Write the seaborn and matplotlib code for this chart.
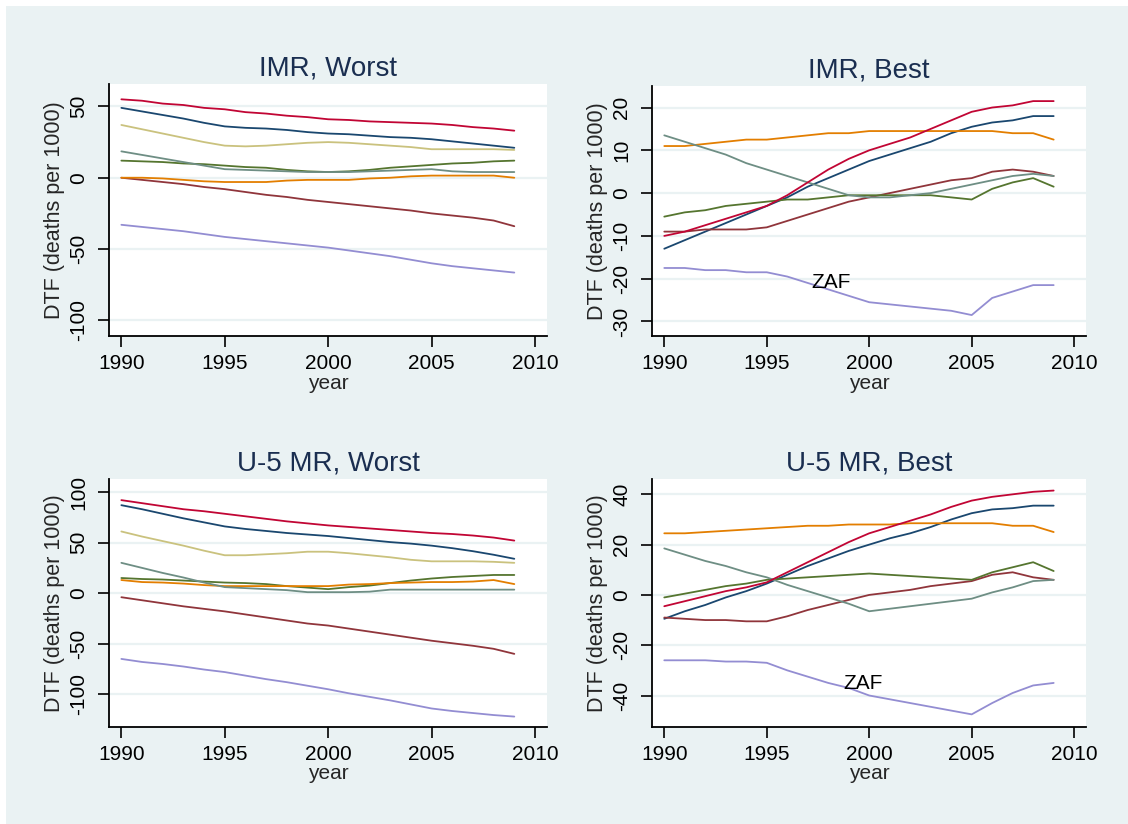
import numpy as np
import pandas as pd
import seaborn as sns
import matplotlib
matplotlib.use("Agg")
from matplotlib import pyplot as plt
from matplotlib.patches import Rectangle

# anni
years = list(range(1990, 2010))

# IMR, Worst
imr_w_red = [55, 54, 52, 51, 49, 48, 46, 45, 43.5, 42.5, 41, 40.5, 39.5, 39, 38.5, 38, 37, 35.5, 34.5, 33]
imr_w_navy = [49, 46.5, 44, 41.5, 38.5, 36, 35, 34.5, 33.5, 32, 31, 30.5, 29.5, 28.5, 28, 27, 25.5, 24, 22.5, 21]
imr_w_khaki = [37, 34, 31, 28, 25, 22.5, 22, 22.5, 23.5, 24.5, 25, 24.5, 23.5, 22.5, 21.5, 20, 20, 20, 20, 19.5]
imr_w_teal = [18.5, 16, 13.5, 11, 8.5, 6, 5.5, 5, 4.5, 4, 4, 4, 4.5, 5, 5.5, 6, 4.5, 4, 4, 4]
imr_w_green = [12, 11.5, 11, 10, 9.5, 8.5, 7.5, 7, 5.5, 4.5, 4, 4.5, 5.5, 7, 8, 9, 10, 10.5, 11.5, 12]
imr_w_orange = [0, 0, -0.5, -1.5, -2.5, -3, -3, -3, -2, -1.5, -1.5, -1.5, -0.5, 0, 1, 1.5, 1.5, 1.5, 1.5, 0]
imr_w_maroon = [0, -1.5, -3, -4.5, -6.5, -8, -10, -12, -13.5, -15.5, -17, -18.5, -20, -21.5, -23, -25, -26.5, -28, -30, -34]
imr_w_zaf = [-33, -34.5, -36, -37.5, -39.5, -41.5, -43, -44.5, -46, -47.5, -49, -51, -53, -55, -57.5, -60, -62, -63.5, -65, -66.5]

# IMR, Best
imr_b_red = [-10, -9, -7.5, -6, -4.5, -3, -0.5, 2.5, 5.5, 8, 10, 11.5, 13, 15, 17, 19, 20, 20.5, 21.5, 21.5]
imr_b_navy = [-13, -11, -9, -7, -5, -3, -1, 1.5, 3.5, 5.5, 7.5, 9, 10.5, 12, 14, 15.5, 16.5, 17, 18, 18]
imr_b_orange = [11, 11, 11.5, 12, 12.5, 12.5, 13, 13.5, 14, 14, 14.5, 14.5, 14.5, 14.5, 14.5, 14.5, 14.5, 14, 14, 12.5]
imr_b_teal = [13.5, 12, 10.5, 9, 7, 5.5, 4, 2.5, 1, -0.5, -1, -1, -0.5, 0, 1, 2, 3, 4, 4.5, 4]
imr_b_green = [-5.5, -4.5, -4, -3, -2.5, -2, -1.5, -1.5, -1, -0.5, -0.5, -0.5, -0.5, -0.5, -1, -1.5, 1, 2.5, 3.5, 1.5]
imr_b_maroon = [-9, -9, -8.5, -8.5, -8.5, -8, -6.5, -5, -3.5, -2, -1, 0, 1, 2, 3, 3.5, 5, 5.5, 5, 4]
imr_b_zaf = [-17.5, -17.5, -18, -18, -18.5, -18.5, -19.5, -21, -22.5, -24, -25.5, -26, -26.5, -27, -27.5, -28.5, -24.5, -23, -21.5, -21.5]

# U-5 MR, Worst
u5_w_red = [92, 89, 86, 83, 81, 78.5, 76, 73.5, 71, 69, 67, 65.5, 64, 62.5, 61, 59.5, 58.5, 57, 55, 52]
u5_w_navy = [87, 83, 78.5, 74, 70, 66, 63.5, 61.5, 59.5, 58, 56.5, 54.5, 52.5, 50.5, 49, 47, 44.5, 41.5, 38, 34]
u5_w_khaki = [61, 56, 51.5, 47, 42, 37.5, 37.5, 38.5, 39.5, 41, 41, 39.5, 37.5, 35.5, 33, 31.5, 31.5, 31.5, 31, 30]
u5_w_teal = [30, 25, 20, 15.5, 10.5, 6, 5, 4, 3, 1, 1, 1, 1.5, 3.5, 3.5, 3.5, 3.5, 3.5, 3.5, 3.5]
u5_w_green = [15, 14, 13.5, 12.5, 11.5, 10.5, 10, 9, 7, 5.5, 4, 6, 7.5, 10, 12.5, 14.5, 16, 17, 18, 18]
u5_w_orange = [13, 11, 10.5, 9.5, 8, 7, 7, 7, 7, 7, 7, 8.5, 9, 10, 10.5, 11, 11, 11.5, 13, 9]
u5_w_maroon = [-4, -7, -10, -13, -15.5, -18, -21, -24, -27, -30, -32, -35, -38, -41, -44, -47, -49.5, -52, -55, -60]
u5_w_zaf = [-65, -68, -70, -72.5, -75.5, -78, -81.5, -85, -88, -91.5, -95, -99, -102.5, -106, -110, -114, -116.5, -118.5, -120.5, -122]

# U-5 MR, Best
u5_b_red = [-4.5, -2.5, -0.5, 1.5, 3, 5, 9, 13, 17, 21, 24.5, 27, 29.5, 32, 35, 37.5, 39, 40, 41, 41.5]
u5_b_navy = [-9.5, -6.5, -4, -1, 1.5, 4.5, 8, 11.5, 14.5, 17.5, 20, 22.5, 24.5, 27, 30, 32.5, 34, 34.5, 35.5, 35.5]
u5_b_orange = [24.5, 24.5, 25, 25.5, 26, 26.5, 27, 27.5, 27.5, 28, 28, 28, 28.5, 28.5, 28.5, 28.5, 28.5, 27.5, 27.5, 25]
u5_b_teal = [18.5, 16, 13.5, 11.5, 9, 7, 4, 1.5, -1, -3.5, -6.5, -5.5, -4.5, -3.5, -2.5, -1.5, 1, 3, 5.5, 6]
u5_b_green = [-1, 0.5, 2, 3.5, 4.5, 6, 6.5, 7, 7.5, 8, 8.5, 8, 7.5, 7, 6.5, 6, 9, 11, 13, 9.5]
u5_b_maroon = [-9, -9.5, -10, -10, -10.5, -10.5, -8.5, -6, -4, -2, 0, 1, 2, 3.5, 4.5, 5.5, 8, 9, 7, 6]
u5_b_zaf = [-26, -26, -26, -26.5, -26.5, -27, -30, -32.5, -35, -37, -40, -41.5, -43, -44.5, -46, -47.5, -43, -39, -36, -35]

# colori stile Stata s2color
colori = {
    "navy": "#1A476F", "maroon": "#90353B", "green": "#55752F", "orange": "#E37E00",
    "teal": "#6E8E84", "red": "#C10534", "ZAF": "#938DD2", "khaki": "#CAC27E",
}
bg = "#EAF2F3"


def to_long(series):
    rows = []
    for name, vals in series.items():
        for y, v in zip(years, vals):
            rows.append({"year": y, "serie": name, "dtf": v})
    return pd.DataFrame(rows)


pannelli = [
    ("IMR, Worst", {"navy": imr_w_navy, "maroon": imr_w_maroon, "green": imr_w_green, "orange": imr_w_orange,
                    "teal": imr_w_teal, "red": imr_w_red, "ZAF": imr_w_zaf, "khaki": imr_w_khaki},
     [-100, -50, 0, 50], (-111, 65.7), None,
     [0.0966, 0.5922, 0.3883, 0.3058]),
    ("IMR, Best", {"navy": imr_b_navy, "maroon": imr_b_maroon, "green": imr_b_green, "orange": imr_b_orange,
                   "teal": imr_b_teal, "red": imr_b_red, "ZAF": imr_b_zaf},
     [-30, -20, -10, 0, 10, 20], (-33.4, 25.1), (1997.2, -21),
     [0.578, 0.5922, 0.3848, 0.3038]),
    ("U-5 MR, Worst", {"navy": u5_w_navy, "maroon": u5_w_maroon, "green": u5_w_green, "orange": u5_w_orange,
                       "teal": u5_w_teal, "red": u5_w_red, "ZAF": u5_w_zaf, "khaki": u5_w_khaki},
     [-100, -50, 0, 50, 100], (-132, 112.9), None,
     [0.0966, 0.1181, 0.3883, 0.3006]),
    ("U-5 MR, Best", {"navy": u5_b_navy, "maroon": u5_b_maroon, "green": u5_b_green, "orange": u5_b_orange,
                      "teal": u5_b_teal, "red": u5_b_red, "ZAF": u5_b_zaf},
     [-40, -20, 0, 20, 40], (-52.4, 46.1), (1998.75, -35.3),
     [0.578, 0.1181, 0.3848, 0.3006]),
]

sns.set_theme(style="white")
plt.rcParams["font.family"] = ["Liberation Sans", "DejaVu Sans"]
plt.rcParams["axes.unicode_minus"] = False  # trattino semplice come in Stata

fig = plt.figure(figsize=(11.28, 8.24), dpi=100)
fig.patch.set_facecolor("white")
fig.add_artist(Rectangle((6 / 1128, 0), 1, 1 - 6 / 824, transform=fig.transFigure,
                         facecolor=bg, edgecolor="none", zorder=-10))

for titolo, series, yticks, ylim, zaf_pos, pos in pannelli:
    ax = fig.add_axes(pos)
    df = to_long(series)
    sns.lineplot(data=df, x="year", y="dtf", hue="serie", palette=colori,
                 estimator=None, linewidth=1.3, legend=False, ax=ax)
    ax.set_facecolor("white")
    ax.set_xlim(1989.4, 2010.58)
    ax.set_ylim(*ylim)
    ax.set_xticks([1990, 1995, 2000, 2005, 2010])
    ax.set_yticks(yticks)
    ax.grid(axis="y", color=bg, linewidth=1.6)
    ax.grid(axis="x", visible=False)
    ax.set_axisbelow(True)
    for s in ["top", "right"]:
        ax.spines[s].set_visible(False)
    for s in ["left", "bottom"]:
        ax.spines[s].set_color("black")
        ax.spines[s].set_linewidth(1.3)
    ax.tick_params(axis="both", which="major", length=8, width=1.2, color="black",
                   labelsize=15, labelcolor="black", left=True, bottom=True)
    ax.tick_params(axis="x", pad=5)
    ax.tick_params(axis="y", pad=7)
    for lab in ax.get_yticklabels():
        lab.set_rotation(90)
        lab.set_va("center")
    ax.set_title(titolo, fontsize=20, color="#1A2E50", pad=6)
    ax.set_xlabel("year", fontsize=15, labelpad=0.5)
    ax.set_ylabel("DTF (deaths per 1000)", fontsize=15.5, labelpad=3)
    if zaf_pos is not None:
        ax.text(zaf_pos[0], zaf_pos[1], "ZAF", fontsize=15, ha="left", va="center", color="black")

fig.savefig("out.png", dpi=100, facecolor=fig.get_facecolor())
